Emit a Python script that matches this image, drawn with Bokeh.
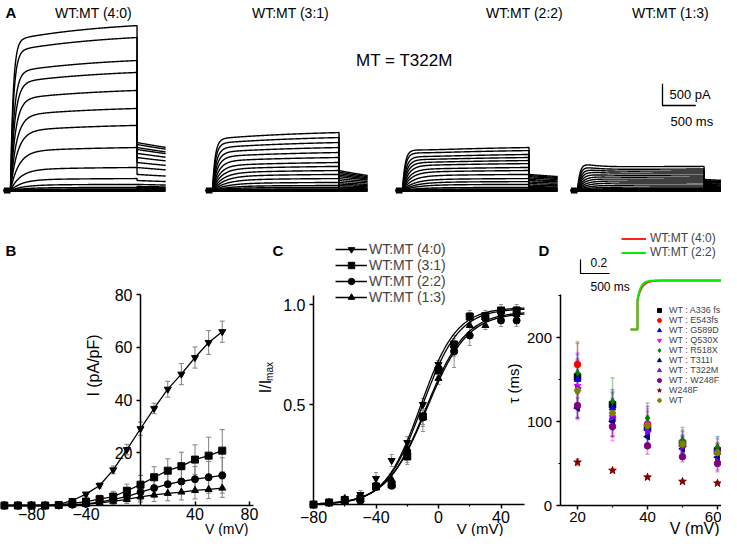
import numpy as np
from bokeh.plotting import figure
from bokeh.models import (Range1d, LinearAxis, FixedTicker, ColumnDataSource, Whisker,
                          TeeHead, Label, Legend, LegendItem, NumeralTickFormatter)
from bokeh.embed import file_html
from bokeh.resources import INLINE

FONT = "Liberation Sans"

# ================= DATA =================
# ---- Panel A: whole-cell current traces (pA) ----
a_titles = ["WT:MT (4:0)", "WT:MT (3:1)", "WT:MT (2:2)", "WT:MT (1:3)"]
a_note = "MT = T322M"
a_step_ms = 1900
a_tail_ms = 430
a_hold_ms = 100
a_tau_slow = 1500
a1_step = [3800, 3525, 2995, 2720, 2305, 1890, 1500, 990, 530, 275, 140, 70, 35, 18, 7]
a1_tail = [1105, 1060, 990, 945, 855, 760, 645, 530, 370, 230, 140, 92, 69, 46, 23]
a2_step = [1335, 1220, 1105, 990, 875, 760, 645, 555, 460, 370, 275, 185, 115, 70, 35]
a2_tail = [460, 425, 390, 355, 320, 275, 230, 185, 150, 115, 80, 58, 35, 23, 12]
a3_step = [990, 920, 830, 760, 690, 620, 530, 460, 370, 275, 205, 140, 70, 35, 16]
a3_tail = [370, 345, 320, 290, 255, 230, 195, 160, 125, 92, 70, 46, 28, 14, 7]
a4_step = [555, 495, 450, 405, 355, 310, 265, 220, 175, 125, 80, 46, 23, 12]
a4_tail = [255, 230, 220, 205, 185, 160, 140, 115, 92, 70, 46, 28, 14, 7]
a_tau_fast = [40, 45, 55, 65, 75, 90, 105, 125, 150, 175, 200, 220, 240, 250, 250]
a_slow_frac = [0.12, 0.15, 0.12, 0.05]
a_tail_tau = [4000, 1500, 3000, 3000]
a_overshoot = [0.0, 0.0, 0.05, 0.25]
a_tau_inact = 200
a_scale_pA = 500
a_scale_ms = 500

# ---- Panel B: I-V (pA/pF) ----
b_v = [-100, -90, -80, -70, -60, -50, -40, -30, -20, -10, 0, 10, 20, 30, 40, 50, 60]
b_40 = [0, 0, 0, 0, 0.3, 1.9, 4.3, 7.6, 13.5, 21.2, 29.1, 36.8, 44.1, 49.8, 56.1, 61.8, 65.9]
b_40_err = [0, 0, 0, 0, 0.2, 0.5, 0.8, 1.0, 1.5, 2.0, 2.5, 2.0, 3.0, 4.0, 4.0, 4.5, 4.0]
b_31 = [0, 0, 0, 0, 0.2, 0.8, 1.5, 2.4, 3.4, 5.6, 7.9, 10.7, 13.2, 14.9, 17.4, 18.9, 20.8]
b_31_err = [0, 0, 0, 0, 0.2, 0.5, 1.0, 1.5, 2.0, 2.5, 3.5, 4.0, 4.5, 5.3, 5.6, 7.0, 8.0]
b_22 = [0, 0, 0, 0, 0, 0.3, 0.6, 1.3, 2.3, 3.4, 5.1, 6.6, 8.1, 9.1, 10.0, 10.7, 11.4]
b_22_err = [0, 0, 0, 0, 0, 0.3, 0.5, 1.0, 1.5, 2.0, 3.0, 3.5, 4.0, 4.5, 4.8, 6.0, 6.7]
b_13 = [0, 0, 0, 0, 0, 0.2, 0.4, 1.0, 1.6, 2.3, 3.3, 4.0, 4.6, 5.1, 5.7, 6.1, 6.6]
b_13_err = [0, 0, 0, 0, 0, 0.2, 0.5, 0.8, 1.2, 1.5, 2.0, 2.5, 2.8, 3.0, 3.2, 3.5, 3.5]

# ---- Panel C: normalised activation ----
c_labels = ["WT:MT (4:0)", "WT:MT (3:1)", "WT:MT (2:2)", "WT:MT (1:3)"]
c_markers = ["inverted_triangle", "square", "circle", "triangle"]
c_v = [-80, -70, -60, -50, -40, -30, -20, -10, 0, 10, 20, 30, 40, 50]
c_40 = [0.00, 0.01, 0.03, 0.05, 0.13, 0.22, 0.31, 0.50, 0.70, 0.80, 0.94, 0.95, 0.96, 0.97]
c_31 = [0.00, 0.01, 0.02, 0.03, 0.09, 0.10, 0.24, 0.44, 0.67, 0.80, 0.94, 0.94, 0.97, 0.97]
c_22 = [0.00, 0.01, 0.025, 0.018, 0.09, 0.095, 0.26, 0.435, 0.68, 0.765, 0.845, 0.93, 0.92, 0.92]
c_13 = [0.00, 0.01, 0.03, 0.04, 0.10, 0.125, 0.28, 0.44, 0.63, 0.78, 0.895, 0.895, 0.95, 0.95]
c_40_err = [0, 0.005, 0.01, 0.02, 0.03, 0.03, 0.03, 0.03, 0.02, 0.02, 0.02, 0.02, 0.02, 0.02]
c_31_err = [0, 0.005, 0.01, 0.01, 0.02, 0.02, 0.04, 0.04, 0.03, 0.03, 0.03, 0.02, 0.03, 0.03]
c_22_err = [0, 0.005, 0.01, 0.01, 0.02, 0.02, 0.05, 0.07, 0.04, 0.08, 0.05, 0.03, 0.03, 0.03]
c_13_err = [0, 0.005, 0.01, 0.02, 0.02, 0.03, 0.04, 0.05, 0.03, 0.04, 0.03, 0.02, 0.02, 0.02]
c_fit_amp = [0.985, 0.98, 0.96, 0.965]
c_fit_vhalf = [-11.5, -10.5, -7.5, -8.0]
c_fit_k = [11.5, 11.8, 13.0, 12.8]
c_fit_range = [-80, 55]

# ---- Panel D: activation time constants (ms) ----
d_v = [20, 30, 40, 50, 60]
d_labels = ["WT : A336 fs", "WT : E543fs", "WT : G589D", "WT : Q530X", "WT : R518X",
            "WT : T311I", "WT : T322M", "WT : W248F", "W248F", "WT"]
d_colors = ["#000000", "#ff0000", "#0000ff", "#ff00ff", "#008000",
            "#000080", "#8000ff", "#800080", "#800000", "#808000"]
d_markers = ["square", "circle", "triangle", "inverted_triangle", "diamond",
             "triangle", "triangle", "circle", "star", "hex"]
d_angles = [0, 0, 0, 0, 0, np.pi / 2, -np.pi / 2, 0, 0, 0]
d_A336fs = [153, 120, 93, 74, 65]
d_E543fs = [168, 102, 97, 72, 65]
d_G589D = [150, 116, 93, 76, 67]
d_Q530X = [142, 105, 97, 75, 62]
d_R518X = [158, 124, 104, 78, 69.5]
d_T311I = [116, 100, 82, 67.5, 57.5]
d_T322M = [140, 105, 88, 70, 52]
d_WT_W248F = [119, 94, 71, 58, 50]
d_W248F = [51.5, 41.7, 33.7, 28.6, 26.5]
d_WT = [137, 110, 95, 73, 63]
d_A336fs_err = [20, 15, 12, 10, 8]
d_E543fs_err = [25, 20, 15, 10, 10]
d_G589D_err = [30, 22, 25, 12, 15]
d_Q530X_err = [40, 28, 18, 15, 12]
d_R518X_err = [37, 28, 18, 15, 10]
d_T311I_err = [12, 10, 8, 6, 6]
d_T322M_err = [35, 22, 15, 12, 12]
d_WT_W248F_err = [15, 12, 10, 6, 8]
d_W248F_err = [4, 2, 2, 1.5, 1.5]
d_WT_err = [25, 18, 12, 8, 8]

# ---- Panel D inset: normalised activation traces ----
i_labels = ["WT:MT (4:0)", "WT:MT (2:2)"]
i_colors = ["#ff2020", "#00ee00"]
i_tau = [75, 55]
i_base = 0.3
i_jump = 0.72
i_t = [-120, 1720]
i_scale_ms = 500
i_scale_y = 0.2

# ================= LAYOUT =================
W, H = 721, 536
L, R, T, B = 0, W, 0, H          # pixel extent of the figure frame


def xr(d0, d1, r0, r1):
    k = (d1 - d0) / (r1 - r0)
    return Range1d(start=d0 - (r0 - L) * k, end=d0 + (R - r0) * k)


def yr(d0, d1, r0, r1):
    k = (d1 - d0) / (r0 - r1)
    return Range1d(start=d0 - (B - r0) * k, end=d0 + (r0 - T) * k)


def px2x(rng, rx):
    return rng.start + (rx - L) * (rng.end - rng.start) / (R - L)


def px2y(rng, ry):
    return rng.end - (ry - T) * (rng.end - rng.start) / (B - T)


p = figure(width=W, height=H, x_range=Range1d(L, R), y_range=Range1d(B, T),
           x_axis_type=None, y_axis_type=None, toolbar_location=None,
           output_backend="svg", min_border=0, outline_line_color=None)
p.background_fill_color = "white"
p.border_fill_color = "white"

ranges_x = {"ax": xr(0, 500, 10, 43.3), "bx": xr(0, 80, 140, 249), "cx": xr(-80, 0, 313, 438),
            "dx": xr(20, 60, 577, 717), "ix": xr(0, 500, 637, 666)}
ranges_y = {"ay": yr(0, 500, 190, 168.3), "by": yr(0, 80, 505, 294), "cy": yr(0, 1.0, 504, 304),
            "dy": yr(0, 200, 505, 337), "iy": yr(i_base, 1.0, 329, 280)}
p.extra_x_ranges = ranges_x
p.extra_y_ranges = ranges_y


def label(x, y, text, size, align="left", bold=False, angle=0, baseline="middle"):
    p.add_layout(Label(x=x, y=y, text=text, text_font=FONT, text_font_size=size,
                       text_align=align, text_baseline=baseline, angle=angle,
                       text_font_style="bold" if bold else "normal", text_color="black"))


def add_axis(side, xn, yn, loc, bounds, ticks, minor, fs, tin, tout, fmt=None, standoff=4):
    ax = LinearAxis(x_range_name=xn, y_range_name=yn, fixed_location=loc, bounds=bounds,
                    ticker=FixedTicker(ticks=ticks, minor_ticks=minor))
    ax.axis_line_width = 1.5
    ax.major_tick_line_width = 1.5
    ax.minor_tick_line_width = 1.2
    ax.major_tick_in = tin
    ax.major_tick_out = tout
    ax.minor_tick_in = 0
    ax.minor_tick_out = 2
    ax.major_label_text_font = FONT
    ax.major_label_text_font_size = fs
    ax.major_label_text_color = "black"
    ax.major_label_standoff = standoff
    if fmt is not None:
        ax.formatter = fmt
    p.add_layout(ax, side)


def add_err(xn, yn, x, y, e, color, alpha, width, head):
    y = np.asarray(y, float)
    e = np.asarray(e, float)
    src = ColumnDataSource(dict(x=x, lo=y - e, hi=y + e))
    w = Whisker(source=src, base="x", lower="lo", upper="hi", dimension="height",
                line_color=color, line_alpha=alpha, line_width=width,
                upper_head=TeeHead(size=head, line_color=color, line_alpha=alpha, line_width=width),
                lower_head=TeeHead(size=head, line_color=color, line_alpha=alpha, line_width=width),
                x_range_name=xn, y_range_name=yn, level="underlay")
    p.add_layout(w)


# ---------------- Panel A ----------------
label(5, 12, "A", "15px", bold=True)
a_group_px = [10, 212, 402, 577]
a_title_px = [93, 290, 524, 670]
ms_per_px = 500 / 33.3
steps = [a1_step, a2_step, a3_step, a4_step]
tails = [a1_tail, a2_tail, a3_tail, a4_tail]
t_step = np.linspace(0, a_step_ms, 260)
t_tail = np.linspace(a_step_ms, a_step_ms + a_tail_ms, 60)
for gi in range(4):
    off = (a_group_px[gi] - 10) * ms_per_px
    f = a_slow_frac[gi]
    xs, ys = [], []
    for amp, tl, tf in zip(steps[gi], tails[gi], a_tau_fast):
        A = amp / (1 - f * np.exp(-a_step_ms / a_tau_slow))
        rise = 1 - np.exp(-t_step / tf)
        I = A * ((1 - f) * rise + f * (1 - np.exp(-t_step / a_tau_slow)))
        I = I + A * a_overshoot[gi] * np.exp(-t_step / a_tau_inact) * rise
        It = tl * np.exp(-(t_tail - a_step_ms) / a_tail_tau[gi])
        xs.append(list(np.concatenate([[-a_hold_ms, 0], t_step, t_tail]) + off))
        ys.append(list(np.concatenate([[0, 0], I, It])))
    p.multi_line(xs, ys, line_color="black", line_width=1.4,
                 x_range_name="ax", y_range_name="ay")
    p.line([off - a_hold_ms, off + a_step_ms + a_tail_ms], [0, 0], line_color="black",
           line_width=3, x_range_name="ax", y_range_name="ay")
    p.line([off - a_hold_ms, off], [0, 0], line_color="black", line_width=6,
           x_range_name="ax", y_range_name="ay")
    label(a_title_px[gi], 12, a_titles[gi], "14px", align="center")
label(404, 60, a_note, "17px", align="center")
sx0 = px2x(ranges_x["ax"], 662)
sy0 = px2y(ranges_y["ay"], 105)
p.line([sx0, sx0, sx0 + a_scale_ms], [sy0 + a_scale_pA, sy0, sy0], line_color="black",
       line_width=1.3, x_range_name="ax", y_range_name="ay")
label(669, 94, f"{a_scale_pA} pA", "13px")
label(670, 121, f"{a_scale_ms} ms", "13px")

# ---------------- Panel B ----------------
label(5, 250, "B", "15px", bold=True)
b_series = [(b_40, b_40_err, "inverted_triangle"), (b_31, b_31_err, "square"),
            (b_22, b_22_err, "circle"), (b_13, b_13_err, "triangle")]
for ys_, es_, mk in b_series:
    add_err("bx", "by", b_v, ys_, es_, "#808080", 1.0, 1, 5)
for ys_, es_, mk in b_series:
    p.line(b_v, ys_, line_color="black", line_width=1.3, x_range_name="bx", y_range_name="by")
    p.scatter(b_v, ys_, marker=mk, size=7, color="black", x_range_name="bx", y_range_name="by")
add_axis("below", "bx", "by", 0, (-102, 83), [-80, -40, 40, 80], [], "16px", 4, 0, standoff=2)
add_axis("left", "bx", "by", 0, (0, 80), [20, 40, 60, 80], [], "16px", 0, 4)
label(93, 365, "I (pA/pF)", "16px", align="center", angle=np.pi / 2)
label(248, 536, "V (mV)", "14px", align="right", baseline="bottom")

# ---------------- Panel C ----------------
label(272, 250, "C", "15px", bold=True)
c_series = [(c_40, c_40_err), (c_31, c_31_err), (c_22, c_22_err), (c_13, c_13_err)]
for (ys_, es_) in c_series:
    add_err("cx", "cy", c_v, ys_, es_, "#909090", 1.0, 1, 4)
vfit = np.linspace(c_fit_range[0], c_fit_range[1], 200)
c_items = []
for i, (ys_, es_) in enumerate(c_series):
    fit = c_fit_amp[i] / (1 + np.exp(-(vfit - c_fit_vhalf[i]) / c_fit_k[i]))
    rl = p.line(vfit, fit, line_color="black", line_width=1.3, x_range_name="cx", y_range_name="cy")
    rs = p.scatter(c_v, ys_, marker=c_markers[i], size=7, color="black",
                   x_range_name="cx", y_range_name="cy")
    c_items.append(LegendItem(label=c_labels[i], renderers=[rl, rs]))
add_axis("below", "cx", "cy", 0, (-80, 55), [-80, -40, 0, 40], [-60, -20, 20], "16px", 0, 4,
         standoff=2)
add_axis("left", "cx", "cy", -80, (0, 1.045), [0.5, 1.0], [], "16px", 0, 4,
         NumeralTickFormatter(format="0.0"))
label(265, 386, "I/I", "16px", align="center", angle=np.pi / 2)
label(269, 371, "max", "10px", align="center", angle=np.pi / 2)
label(503, 536, "V (mV)", "15px", align="right", baseline="bottom")
c_leg = Legend(items=c_items, location=(335, H - 305), label_text_font=FONT,
               label_text_font_size="14px", glyph_width=32, glyph_height=16, label_height=16,
               label_standoff=2, spacing=0, padding=0, margin=0, border_line_color=None,
               background_fill_alpha=0)
p.add_layout(c_leg, "center")

# ---------------- Panel D ----------------
label(538, 250, "D", "15px", bold=True)
d_vals = [d_A336fs, d_E543fs, d_G589D, d_Q530X, d_R518X, d_T311I, d_T322M, d_WT_W248F, d_W248F, d_WT]
d_errs = [d_A336fs_err, d_E543fs_err, d_G589D_err, d_Q530X_err, d_R518X_err, d_T311I_err,
          d_T322M_err, d_WT_W248F_err, d_W248F_err, d_WT_err]
for i in range(10):
    add_err("dx", "dy", d_v, d_vals[i], d_errs[i], d_colors[i], 0.35, 1.5, 4)
d_items = []
for i in range(10):
    sz = 8 if d_markers[i] == "star" else 6.5
    r = p.scatter(d_v, d_vals[i], marker=d_markers[i], size=sz, angle=d_angles[i],
                  color=d_colors[i], x_range_name="dx", y_range_name="dy")
    d_items.append(LegendItem(label=d_labels[i], renderers=[r]))
add_axis("below", "dx", "dy", 0, (15, 66), [20, 40, 60], [30, 50], "15px", 0, 4, standoff=2)
add_axis("left", "dx", "dy", 15, (0, 251), [0, 100, 200], [50, 150, 250], "15px", 0, 4)
label(513, 383, "τ (ms)", "15px", align="center", angle=np.pi / 2)
label(719, 536, "V (mV)", "16px", align="right", baseline="bottom")
d_leg = Legend(items=d_items, location=(653, H - 405), label_text_font=FONT,
               label_text_font_size="9px", glyph_width=12, glyph_height=10, label_height=10,
               label_standoff=4, spacing=0, padding=0, margin=0, border_line_color=None,
               background_fill_alpha=0)
p.add_layout(d_leg, "center")

# inset
ti = np.linspace(0, i_t[1], 300)
i_items = []
for i in range(2):
    tt = np.concatenate([[i_t[0], 0], ti])
    yy = np.concatenate([[i_base, i_base], 1.0 - (1.0 - i_jump) * np.exp(-ti / i_tau[i])])
    r = p.line(tt, yy, line_color=i_colors[i], line_width=2, x_range_name="ix", y_range_name="iy")
    i_items.append(LegendItem(label=i_labels[i], renderers=[r]))
qx0 = px2x(ranges_x["ix"], 580)
qy0 = px2y(ranges_y["iy"], 273)
p.line([qx0, qx0, qx0 + i_scale_ms], [qy0 + i_scale_y, qy0, qy0], line_color="black",
       line_width=1.2, x_range_name="ix", y_range_name="iy")
label(590, 262, f"{i_scale_y}", "12px")
label(590, 286, f"{i_scale_ms} ms", "12px")
i_leg = Legend(items=i_items, location=(621, H - 259), label_text_font=FONT,
               label_text_font_size="12px", glyph_width=25, glyph_height=13, label_height=13,
               label_standoff=4, spacing=0, padding=0, margin=0, border_line_color=None,
               background_fill_alpha=0)
p.add_layout(i_leg, "center")

open("out.html", "w").write(file_html(p, INLINE))
